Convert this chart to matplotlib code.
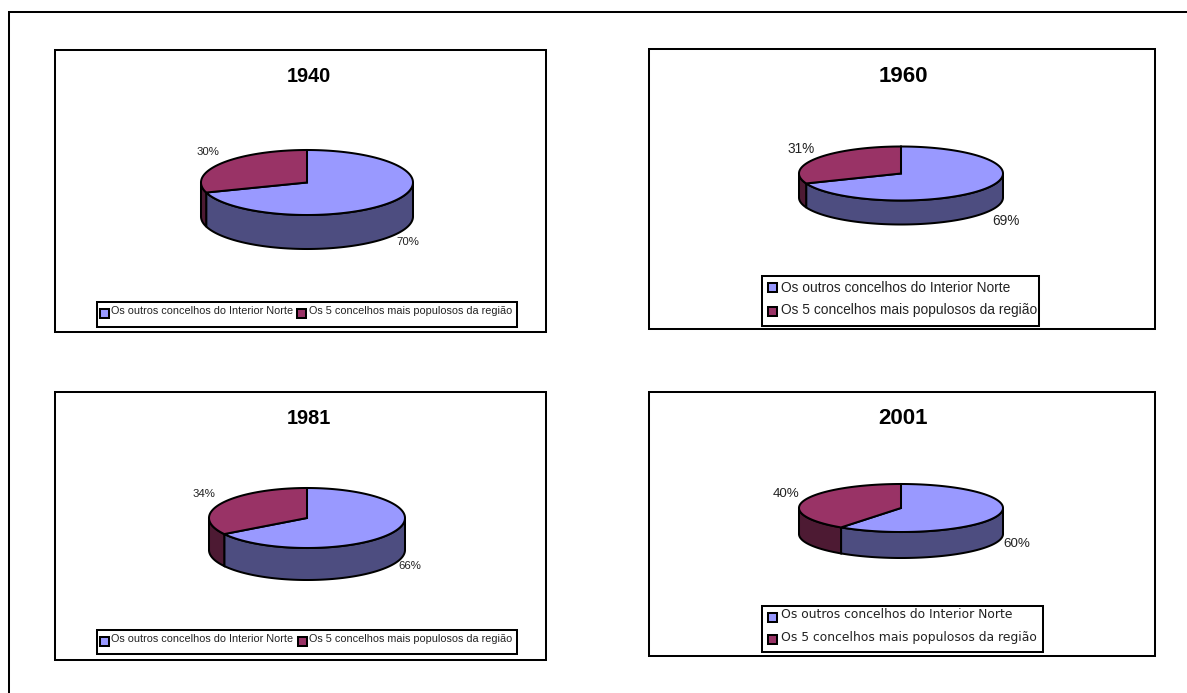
import numpy as np
import matplotlib
matplotlib.use('Agg')
import matplotlib.pyplot as plt
from matplotlib.patches import Polygon, Rectangle

plt.rcParams['font.family'] = ['Liberation Sans', 'DejaVu Sans']

YEARS = ['1940', '1960', '1981', '2001']
OTHERS = [70, 69, 66, 60]
TOP5 = [30, 31, 34, 40]
SERIES = ['Os outros concelhos do Interior Norte', 'Os 5 concelhos mais populosos da região']

BLUE, RED = '#9999FF', '#993366'
BLUE_SIDE, RED_SIDE = '#4D4D80', '#4D1A33'
LW = 1.45

# panel box, pie centre/radii/depth, label positions, legend box,
# legend rows as (swatch x, swatch y, text x, text y)
PANELS = [
    dict(box=(55, 50, 546, 332), pie=(307, 182.5, 106, 32.5, 34), lab=((208, 152), (408, 242)),
         leg=(97, 302, 517, 327), rows=[(100, 309, 111, 311), (297, 309, 309, 311)],
         font='Liberation Sans', fs=7.8, lab_fs=8.2, tsize=14.3, ty=76),
    dict(box=(649, 49, 1155, 329), pie=(901, 173.5, 102, 27, 24), lab=((801, 149), (1006, 221)),
         leg=(762, 276, 1039, 326), rows=[(768, 283, 781, 288), (768, 307, 781, 310)],
         font='Liberation Sans', fs=9.9, lab_fs=9.8, tsize=16, ty=76),
    dict(box=(55, 392, 546, 660), pie=(307, 518, 98, 30, 32), lab=((204, 494), (410, 566)),
         leg=(97, 630, 517, 654), rows=[(100, 637, 111, 639), (298, 637, 309, 639)],
         font='Liberation Sans', fs=7.8, lab_fs=8.2, tsize=14.3, ty=418),
    dict(box=(649, 392, 1155, 656), pie=(901, 508, 102, 24, 26), lab=((786, 494), (1017, 544)),
         leg=(762, 606, 1043, 652), rows=[(768, 613, 781, 615), (768, 635, 781, 637)],
         font='DejaVu Sans', fs=8.9, lab_fs=9.6, tsize=16, ty=418),
]


def arc(cx, cy, rx, ry, t0, t1):
    t = np.radians(np.linspace(t0, t1, 120))
    return np.column_stack([cx + rx * np.sin(t), cy - ry * np.cos(t)])


def draw_pie(ax, share, pie):
    cx, cy, rx, ry, depth = pie
    split = 360 * share / 100
    # front wall, only the part between 3 and 9 o'clock can be seen
    for t0, t1, col in [(90, min(split, 270), BLUE_SIDE), (split, 270, RED_SIDE)]:
        if t1 <= t0:
            continue
        top = arc(cx, cy, rx, ry, t0, t1)
        low = top[::-1] + [0, depth]
        ax.add_patch(Polygon(np.vstack([top, low]), fc=col, ec='k', lw=LW))
    for t0, t1, col in [(0, split, BLUE), (split, 360, RED)]:
        pts = np.vstack([[cx, cy], arc(cx, cy, rx, ry, t0, t1)])
        ax.add_patch(Polygon(pts, fc=col, ec='k', lw=LW))


def draw_legend(ax, p):
    x0, y0, x1, y1 = p['leg']
    ax.add_patch(Rectangle((x0, y0), x1 - x0, y1 - y0, fc='white', ec='k', lw=LW))
    for (sx, sy, tx, ty), name, col in zip(p['rows'], SERIES, [BLUE, RED]):
        ax.add_patch(Rectangle((sx, sy), 9, 9, fc=col, ec='k', lw=LW))
        ax.text(tx, ty, name, fontsize=p['fs'], family=p['font'], va='center', ha='left',
                color='#222222')


fig = plt.figure(figsize=(11.87, 6.93), dpi=100)
ax = fig.add_axes([0, 0, 1, 1])
ax.set_xlim(0, 1187)
ax.set_ylim(693, 0)
ax.axis('off')

# outer frame runs off the right and bottom of the image
ax.add_patch(Rectangle((9, 12), 1300, 800, fc='white', ec='k', lw=LW))

for year, oth, top, p in zip(YEARS, OTHERS, TOP5, PANELS):
    x0, y0, x1, y1 = p['box']
    ax.add_patch(Rectangle((x0, y0), x1 - x0, y1 - y0, fc='white', ec='k', lw=LW))
    ax.text(p['pie'][0] + 2, p['ty'], year, fontsize=p['tsize'], fontweight='bold',
            ha='center', va='center')
    draw_pie(ax, oth, p['pie'])
    (rx, ry), (bx, by) = p['lab']
    ax.text(rx, ry, f'{top}%', fontsize=p['lab_fs'], ha='center', va='center', color='#222222')
    ax.text(bx, by, f'{oth}%', fontsize=p['lab_fs'], ha='center', va='center', color='#222222')
    draw_legend(ax, p)

fig.savefig('out.png', dpi=100)
